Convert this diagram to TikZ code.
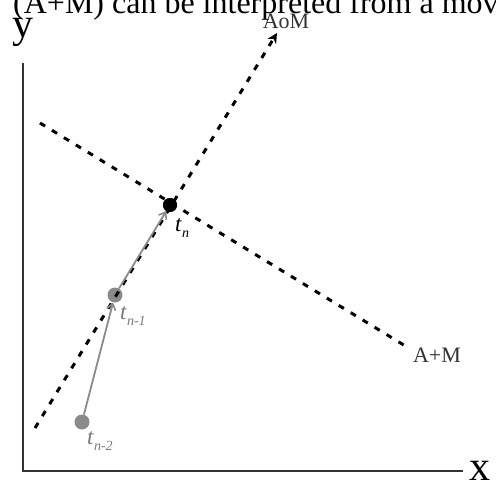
\documentclass[tikz,border=0pt]{standalone}
\usepackage{fontspec}
\setmainfont{Liberation Serif}
\usetikzlibrary{arrows.meta}
\definecolor{axisgray}{HTML}{333333}
\definecolor{dotgray}{HTML}{8A8A8A}
\definecolor{labgray}{HTML}{7A7A7A}
\newcommand{\tlab}[1]{\textit{t}\raisebox{-0.3em}{\fontsize{14}{14}\selectfont\textit{#1}}}
\begin{document}
\begin{tikzpicture}[x=1pt,y=-1pt,
  axisline/.style={line width=2.2pt,draw=axisgray},
  dashline/.style={line width=3pt,dash pattern=on 6pt off 8pt,draw=black},
  moveline/.style={line width=1.8pt,draw=dotgray,-{Straight Barb[length=6pt,width=9pt,line width=1.6pt]}},
  graydot/.style={circle,fill=dotgray,minimum size=15pt,inner sep=0pt},
  blackdot/.style={circle,fill=black,minimum size=14pt,inner sep=0pt},
  bigtext/.style={font=\fontsize{32}{32}\selectfont,inner sep=0pt,anchor=base west},
  axislab/.style={font=\fontsize{42}{42}\selectfont,inner sep=0pt,anchor=base},
  linelab/.style={font=\fontsize{22}{22}\selectfont,inner sep=0pt,text=axisgray},
  tlabel/.style={font=\fontsize{23}{23}\selectfont,inner sep=0pt,anchor=base west}]
\useasboundingbox (0,0) rectangle (496,487);
\clip (0,0) rectangle (496,487);
% caption fragment
\node[bigtext] (cap) at (13,14) {(A+M) can be interpreted from a mov};
% axes
\coordinate (origin) at (22.7,470.7);
\coordinate (ytop) at (22.7,63);
\coordinate (xend) at (462.7,470.7);
\draw[axisline] (ytop) -- (origin) -- (xend);
\node[axislab] (ylab) at (23,38) {y};
\node[axislab] (xlab) at (480,480) {x};
% points
\node[blackdot] (tn) at (170,205) {};
\node[graydot] (tn1) at (115,295) {};
\node[graydot] (tn2) at (82,422) {};
% lines
\coordinate (aomstart) at (35,428);
\coordinate (aomend) at (277,33);
\coordinate (amstart) at (40,123);
\coordinate (amend) at (407,347);
\draw[dashline] (amstart) -- (amend);
\draw[dashline,-{Stealth[length=10pt,width=10pt]}] (aomstart) -- (aomend);
\draw[moveline] (tn2) -- (tn1);
\draw[moveline] (tn1) -- (tn);
\node[blackdot] at (tn) {};
% labels
\node[linelab] (aomlab) at (286,21) {AoM};
\node[linelab] (amlab) at (437,355) {A+M};
\node[tlabel] (tnlab) at (175,231) {\tlab{n}};
\node[tlabel,text=labgray] (tn1lab) at (120,319) {\tlab{n-1}};
\node[tlabel,text=labgray] (tn2lab) at (87,444) {\tlab{n-2}};
\end{tikzpicture}
\end{document}
